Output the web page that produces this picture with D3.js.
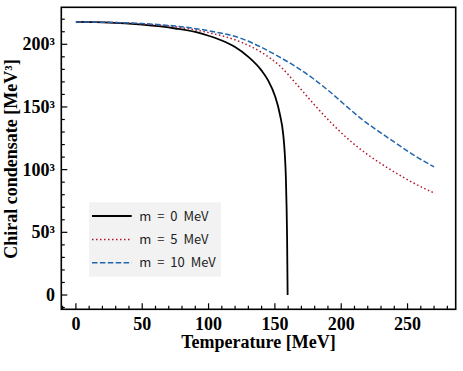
<!DOCTYPE html>
<html>
<head>
<meta charset="utf-8">
<script src="https://cdn.jsdelivr.net/npm/d3@7"></script>
<style>
  html, body { margin: 0; padding: 0; background: #fff; }
  svg { display: block; }
</style>
</head>
<body>
<div id="chart"></div>
<script>
// data: temperature T [MeV] and condensate^(1/3) [MeV]
const massLabels = ["m = 0 MeV", "m = 5 MeV", "m = 10 MeV"];
const m0 = [[0,217.8],[25,217.3],[50,215.6],[75,212.6],[90,209.8],[100,206.8],[110,203],[120,197.8],[130,190],[140,179],[145,171],[150,159],[153.8,144],[156.3,128],[157.5,112],[158.3,93],[158.8,71],[159.2,46],[159.6,0]];
const m5 = [[0,217.8],[25,217.5],[50,216.3],[75,213.9],[100,209.3],[125,201.5],[140,193.5],[154,182.5],[166,168.6],[179,152.7],[191,138.9],[205,124.6],[221,111.2],[235,101.4],[247,93.8],[258,87.4],[270,81.4]];
const m10 = [[0,217.8],[25,217.5],[50,216.5],[75,214.5],[100,210.8],[125,204.5],[140,197.5],[154,189.5],[166,182],[179,172.5],[191,162.5],[204,150.5],[216,139.8],[229,130],[242,120.6],[255,111.4],[270,102.2]];
const xTicks = [0, 50, 100, 150, 200, 250];
const yTicks = [0, 50, 100, 150, 200];
const yTickLabels = ["0", "50³", "100³", "150³", "200³"];

(function() {
    const width = 463, height = 371;
    const left = 61.3, right = 455.7, top = 7.3, bottom = 309.3;

    const svg = d3.select("#chart").append("svg")
        .attr("width", width)
        .attr("height", height);

    const x = d3.scaleLinear().domain([-11, 286.3]).range([left, right]);
    const y = d3.scaleLinear().domain([-11.4, 229.5]).range([bottom, top]);

    const serif = "'Liberation Serif', 'Times New Roman', serif";

    // minor + major ticks, pointing inward
    const xMinor = d3.range(-10, 290, 10).filter(v => v % 50 != 0 && x(v) > left + 1 && x(v) < right - 1);
    const yMinor = d3.range(-10, 230, 10).filter(v => v % 50 != 0 && y(v) < bottom - 1 && y(v) > top + 1);

    const tg = svg.append("g").attr("stroke", "#000").attr("stroke-width", 1.2);
    tg.selectAll(".xmaj").data(xTicks).enter().append("line")
        .attr("x1", d => x(d)).attr("x2", d => x(d))
        .attr("y1", bottom).attr("y2", bottom - 6);
    tg.selectAll(".xmin").data(xMinor).enter().append("line")
        .attr("x1", d => x(d)).attr("x2", d => x(d))
        .attr("y1", bottom).attr("y2", bottom - 3.5);
    tg.selectAll(".ymaj").data(yTicks).enter().append("line")
        .attr("x1", left).attr("x2", left + 6)
        .attr("y1", d => y(d)).attr("y2", d => y(d));
    tg.selectAll(".ymin").data(yMinor).enter().append("line")
        .attr("x1", left).attr("x2", left + 3.5)
        .attr("y1", d => y(d)).attr("y2", d => y(d));

    // tick labels
    svg.append("g").selectAll("text").data(xTicks).enter().append("text")
        .attr("x", d => x(d)).attr("y", 329.5)
        .attr("text-anchor", "middle")
        .attr("font-family", serif).attr("font-weight", "bold").attr("font-size", 18)
        .text(d => d);
    svg.append("g").selectAll("text").data(yTicks).enter().append("text")
        .attr("x", 55).attr("y", d => y(d) + 6)
        .attr("text-anchor", "end")
        .attr("font-family", serif).attr("font-weight", "bold").attr("font-size", 18)
        .text((d, i) => yTickLabels[i]);

    // axis titles
    svg.append("text")
        .attr("x", (left + right) / 2).attr("y", 348)
        .attr("text-anchor", "middle")
        .attr("font-family", serif).attr("font-weight", "bold").attr("font-size", 18)
        .text("Temperature [MeV]");
    svg.append("text")
        .attr("transform", "translate(16.5," + 159 + ") rotate(-90)")
        .attr("text-anchor", "middle")
        .attr("font-family", serif).attr("font-weight", "bold").attr("font-size", 18)
        .text("Chiral condensate [MeV³]");

    // curves
    const series = [
        { label: massLabels[0], data: m0, color: "#000000", dash: null, lw: 1.8 },
        { label: massLabels[1], data: m5, color: "#b2182b", dash: "1.5,2.5", lw: 1.5 },
        { label: massLabels[2], data: m10, color: "#2166ac", dash: "5.5,2.4", lw: 1.5 }
    ];

    const line = d3.line()
        .x(d => x(d[0]))
        .y(d => y(d[1]))
        .curve(d3.curveMonotoneX);

    svg.append("g").selectAll("path").data(series).enter().append("path")
        .attr("d", s => line(s.data))
        .attr("fill", "none")
        .attr("stroke", s => s.color)
        .attr("stroke-width", s => s.lw)
        .attr("stroke-dasharray", s => s.dash);

    // legend
    const lg = svg.append("g");
    lg.append("rect")
        .attr("x", 89).attr("y", 202.3)
        .attr("width", 132).attr("height", 74.4)
        .attr("fill", "#f2f2f2");
    const rows = lg.selectAll(".row").data(series).enter().append("g")
        .attr("transform", (s, i) => "translate(0," + (216 + i * 23.4) + ")");
    rows.append("line")
        .attr("x1", 92).attr("x2", 131.7)
        .attr("y1", 0).attr("y2", 0)
        .attr("stroke", s => s.color)
        .attr("stroke-width", s => s.lw)
        .attr("stroke-dasharray", s => s.dash);
    rows.append("text")
        .attr("x", 139.3).attr("y", 4.6)
        .attr("font-family", "'Noto Sans CJK KR', 'Noto Sans', sans-serif")
        .attr("font-size", 13)
        .attr("word-spacing", 3)
        .attr("fill", "#222")
        .text(s => s.label);

    // frame
    svg.append("rect")
        .attr("x", left).attr("y", top)
        .attr("width", right - left).attr("height", bottom - top)
        .attr("fill", "none")
        .attr("stroke", "#000")
        .attr("stroke-width", 1.6);
})();
</script>
</body>
</html>
